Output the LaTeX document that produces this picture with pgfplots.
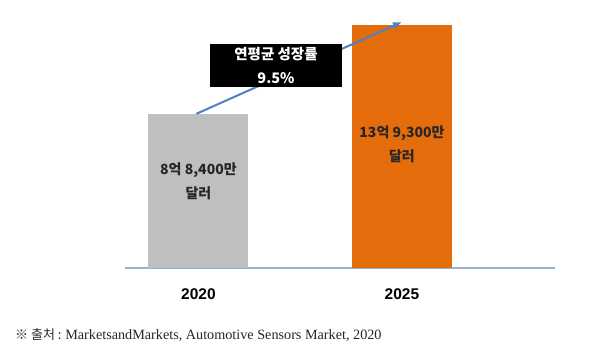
\documentclass[border=0pt]{standalone}
\usepackage{fontspec}
\setmainfont{Liberation Sans}
\newfontfamily\kr{Noto Sans CJK KR}
\newfontfamily\srf{Liberation Serif}
\usepackage{pgfplots}
\pgfplotsset{compat=1.18}
\usetikzlibrary{arrows.meta}
\definecolor{grayb}{HTML}{BFBFBF}
\definecolor{orangeb}{HTML}{E46C0A}
\definecolor{axisblue}{HTML}{95B3D7}
\definecolor{arrowblue}{HTML}{4F81BD}
\definecolor{labtxt}{HTML}{262626}
\begin{document}
\begin{tikzpicture}
\path[use as bounding box] (0pt,0pt) rectangle (597pt,353pt);
\begin{axis}[
  at={(125pt,85pt)}, anchor=south west,
  scale only axis, width=430pt, height=243pt,
  xmin=-0.361, xmax=1.752, ymin=0, ymax=13.93,
  axis x line=bottom, axis y line=none,
  x axis line style={-, color=axisblue, line width=1.2pt},
  major tick length=0pt,
  xtick={0,1}, xticklabels={2020,2025},
  xticklabel style={font=\bfseries\fontsize{15.5}{15.5}\selectfont, yshift=-17pt},
  ytick=\empty,
  clip=false,
]
\addplot[ybar, bar shift=0pt, bar width=100pt, fill=grayb, draw=none] coordinates {(0,8.84)};
\addplot[ybar, bar shift=0pt, bar width=100pt, fill=orangeb, draw=none] coordinates {(1,13.93)};
\draw[-{Latex[length=9pt,width=8pt]}, line width=2pt, color=arrowblue] (axis cs:-0.01,8.84) -- (axis cs:1.0,14.1);
\node[fill=black, text=white, minimum width=132pt, minimum height=43pt, align=center,
      font=\kr\bfseries\fontsize{14.5}{24}\selectfont, inner sep=0pt]
  at (axis cs:0.381,11.61) {연평균 성장률\\9.5\%};
\node[align=center, text=labtxt, font=\kr\bfseries\fontsize{14}{24}\selectfont]
  at (axis cs:0,4.99) {8억 8,400만\\달러};
\node[align=center, text=labtxt, font=\kr\bfseries\fontsize{14}{24}\selectfont]
  at (axis cs:1,7.11) {13억 9,300만\\달러};
\end{axis}
\node[anchor=west, inner sep=0pt, text=labtxt] at (15pt,18pt)
  {{\kr\fontsize{13}{13}\selectfont ※ 출처 :} {\srf\fontsize{14.2}{14.2}\selectfont MarketsandMarkets, Automotive Sensors Market, 2020}};
\end{tikzpicture}
\end{document}
